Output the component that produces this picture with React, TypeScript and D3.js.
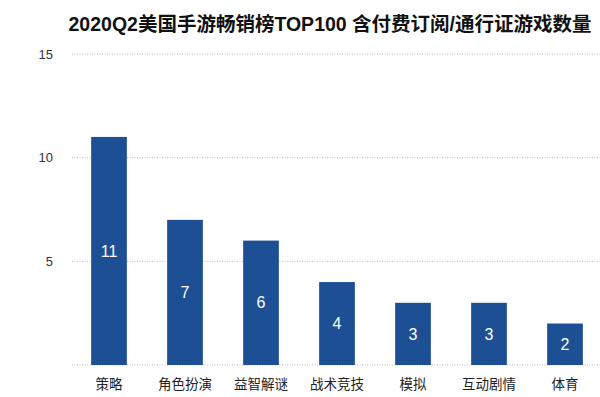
import React from 'react';
import * as d3 from 'd3';

const title = '2020Q2美国手游畅销榜TOP100 含付费订阅/通行证游戏数量';
const categories = ['策略', '角色扮演', '益智解谜', '战术竞技', '模拟', '互动剧情', '体育'];
const counts = [11, 7, 6, 4, 3, 3, 2];
const yTicks = [0, 5, 10, 15];

const W = 600;
const H = 397;
const FONT = '"Helvetica Neue", Arial, "Noto Sans CJK SC", sans-serif';

const App = () => {
  const x = d3.scaleBand<string>()
    .domain(categories)
    .range([71, 603])
    .paddingInner(0.53)
    .paddingOuter(0.265);

  const y = d3.scaleLinear()
    .domain([0, 15])
    .range([365, 54]);

  return (
    <svg width={W} height={H} style={{ position: 'absolute', left: 0, top: 0, background: '#fff' }}>
      <text x={330} y={31} textAnchor="middle" fontFamily={FONT} fontWeight="bold" fontSize={19.5} fill="#111">
        {title}
      </text>

      {/* grid + y labels */}
      {yTicks.map(t => (
        <g key={t}>
          <line x1={72} x2={600} y1={y(t)} y2={y(t)} stroke="#bbb" strokeWidth={1} strokeDasharray="1,1.5" />
          {t > 0 && (
            <text x={53} y={y(t)} dy="0.35em" textAnchor="end" fontFamily={FONT} fontSize={13} fill="#333">
              {t}
            </text>
          )}
        </g>
      ))}

      {/* bars */}
      {categories.map((c, i) => (
        <g key={c}>
          <rect
            x={x(c)}
            y={y(counts[i])}
            width={x.bandwidth()}
            height={y(0) - y(counts[i])}
            fill="#1d4f95"
          />
          <text
            x={(x(c) as number) + x.bandwidth() / 2}
            y={(y(counts[i]) + y(0)) / 2}
            dy="0.35em"
            textAnchor="middle"
            fontFamily={FONT}
            fontSize={16}
            fill="#fff"
          >
            {counts[i]}
          </text>
          <text
            x={(x(c) as number) + x.bandwidth() / 2}
            y={384}
            dy="0.35em"
            textAnchor="middle"
            fontFamily={FONT}
            fontSize={13.5}
            fill="#222"
          >
            {c}
          </text>
        </g>
      ))}
    </svg>
  );
};

export default App;
